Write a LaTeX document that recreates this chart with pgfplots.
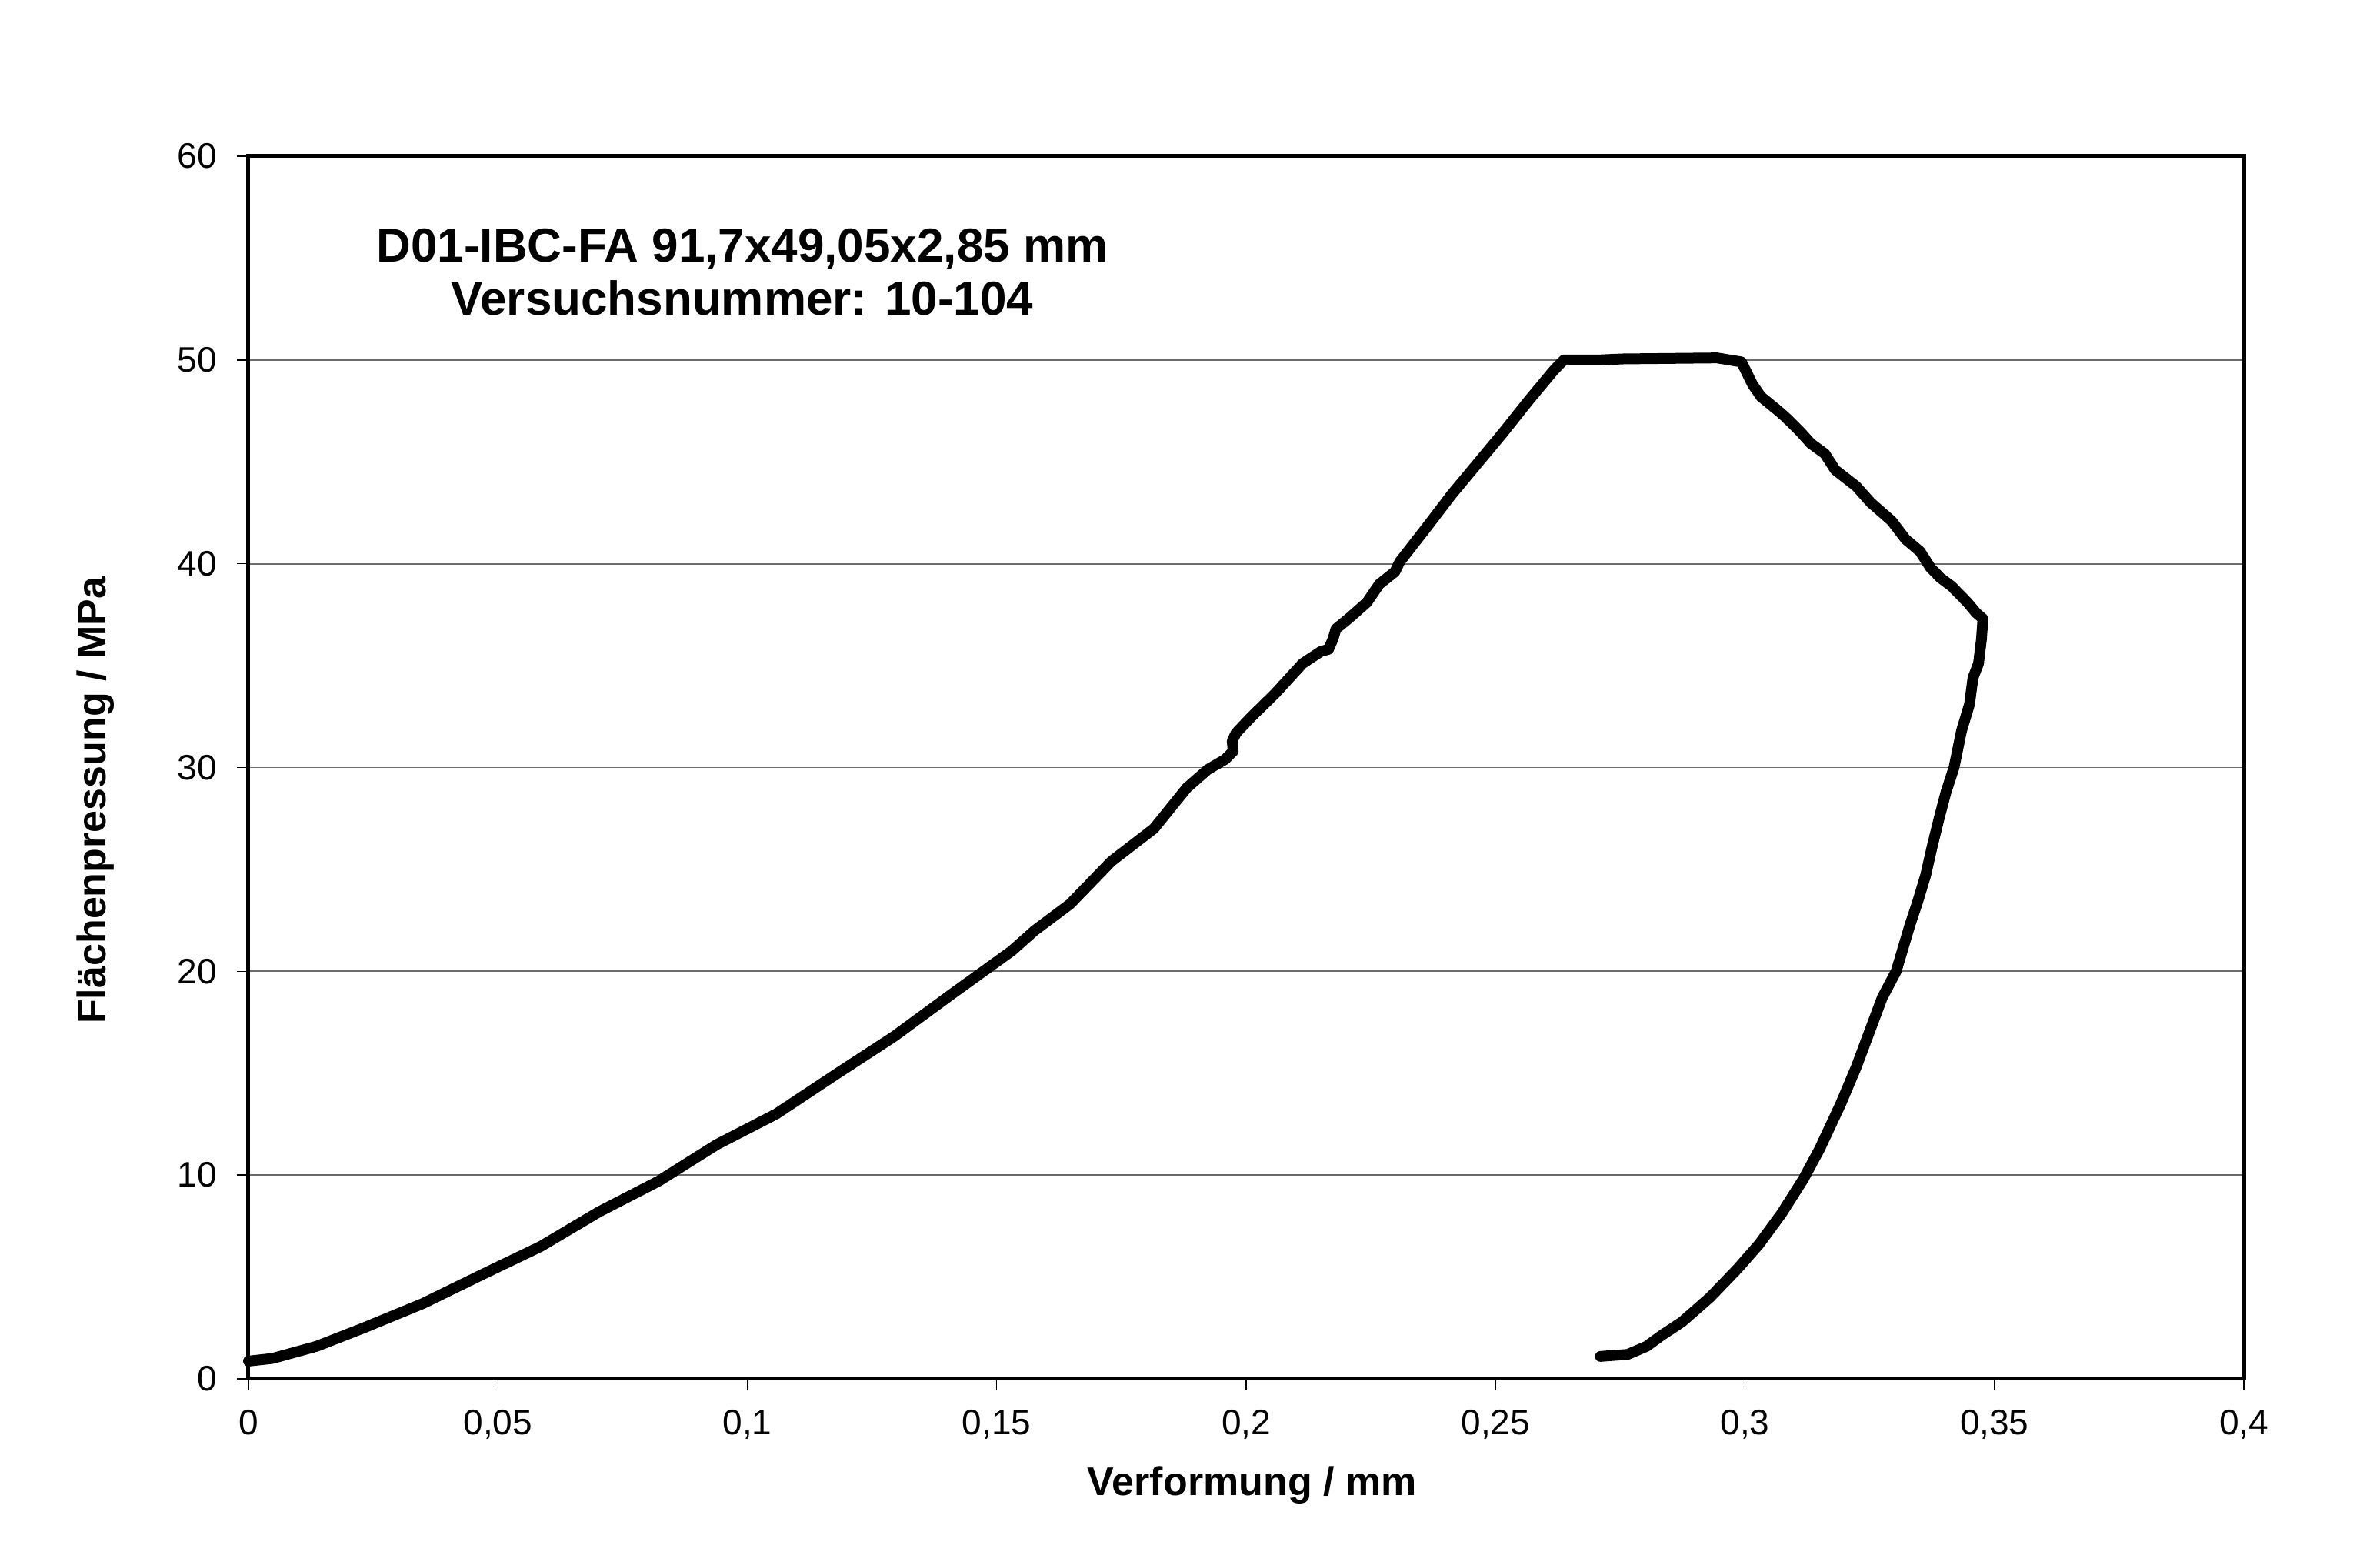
\documentclass[border=0pt]{standalone}
\usepackage{pgfplots}
\pgfplotsset{compat=1.18}
\usepackage{fontspec}
\setmainfont{Liberation Sans}
\begin{document}
\begin{tikzpicture}
\useasboundingbox (-80.75pt,-59.5pt) rectangle (692.75pt,448pt);
\begin{axis}[
  at={(0,0)}, anchor=south west,
  scale only axis,
  width=648.5pt, height=397.25pt,
  xmin=0, xmax=0.4, ymin=0, ymax=60,
  xtick={0,0.05,0.1,0.15,0.2,0.25,0.3,0.35,0.4},
  xticklabels={0,{0,05},{0,1},{0,15},{0,2},{0,25},{0,3},{0,35},{0,4}},
  ytick={0,10,20,30,40,50,60},
  yticklabels={0,10,20,30,40,50,60},
  tick align=outside,
  xtick pos=bottom, ytick pos=left,
  major tick length=3.75pt,
  tick style={black, line width=0.35pt},
  axis line style={black, line width=1.25pt},
  ymajorgrids,
  grid style={gray!85!black, line width=0.45pt},
  ticklabel style={font=\fontsize{11.5}{13}\selectfont},
  yticklabel shift=3pt,
  xticklabel shift=2.7pt,
  xlabel={Verformung / mm},
  ylabel={Flächenpressung / MPa},
  label style={font=\fontsize{13}{15}\selectfont\bfseries},
  xlabel style={at={(axis description cs:0.503,-0.0868)}, anchor=center},
  ylabel style={at={(axis description cs:-0.0765,0.473)}, anchor=center},
  clip=false,
]
\addplot[black, line width=3.5pt, line join=round, line cap=round] coordinates {
(0,0.87) (0.0048,1.0) (0.0137,1.6) (0.0231,2.5) (0.035,3.7) (0.0467,5.1)
(0.0586,6.5) (0.0703,8.2) (0.0822,9.7) (0.0939,11.5) (0.1058,13.0) (0.1175,14.9)
(0.1294,16.8) (0.1411,18.9) (0.153,21.0) (0.1576,22.0) (0.1647,23.3) (0.173,25.4)
(0.1815,27.0) (0.1881,29.0) (0.1923,29.9) (0.1958,30.4) (0.1974,30.8) (0.1972,31.3)
(0.198,31.7) (0.2011,32.5) (0.2057,33.6) (0.2113,35.1) (0.215,35.7) (0.2165,35.8)
(0.2174,36.3) (0.218,36.8) (0.2205,37.3) (0.2242,38.1) (0.2267,39.0) (0.2298,39.6)
(0.2308,40.1) (0.2359,41.7) (0.2412,43.4) (0.2463,44.9) (0.2514,46.4) (0.2566,48.0)
(0.2617,49.5) (0.2637,50.0) (0.2709,50.0) (0.2756,50.05) (0.2944,50.1) (0.2993,49.9)
(0.3015,48.8) (0.3032,48.2) (0.3067,47.5) (0.3081,47.2) (0.311,46.5) (0.3132,45.9)
(0.316,45.4) (0.3181,44.6) (0.3223,43.8) (0.3252,43.0) (0.3294,42.1) (0.3322,41.2)
(0.3351,40.6) (0.3372,39.8) (0.3392,39.3) (0.3414,38.9) (0.3446,38.1) (0.3463,37.6)
(0.3477,37.3) (0.3474,36.3) (0.3468,35.1) (0.3457,34.4) (0.345,33.1) (0.3434,31.8)
(0.3419,30.0) (0.3403,28.8) (0.3388,27.4) (0.3375,26.1) (0.3362,24.7) (0.3346,23.4)
(0.3331,22.3) (0.3303,20.0) (0.3275,18.7) (0.3249,17.0) (0.3223,15.3) (0.3192,13.5)
(0.315,11.3) (0.3117,9.8) (0.3073,8.1) (0.3028,6.6) (0.2985,5.4) (0.2930,4.0)
(0.2874,2.8) (0.2831,2.1) (0.2803,1.6) (0.2765,1.2) (0.2710,1.1)
};
\node[align=center, font=\fontsize{15.5}{17.3}\selectfont\bfseries, anchor=center] at (axis cs:0.099,54.3) {D01-IBC-FA 91,7x49,05x2,85 mm\\Versuchsnummer: 10-104};
\end{axis}
\end{tikzpicture}
\end{document}
